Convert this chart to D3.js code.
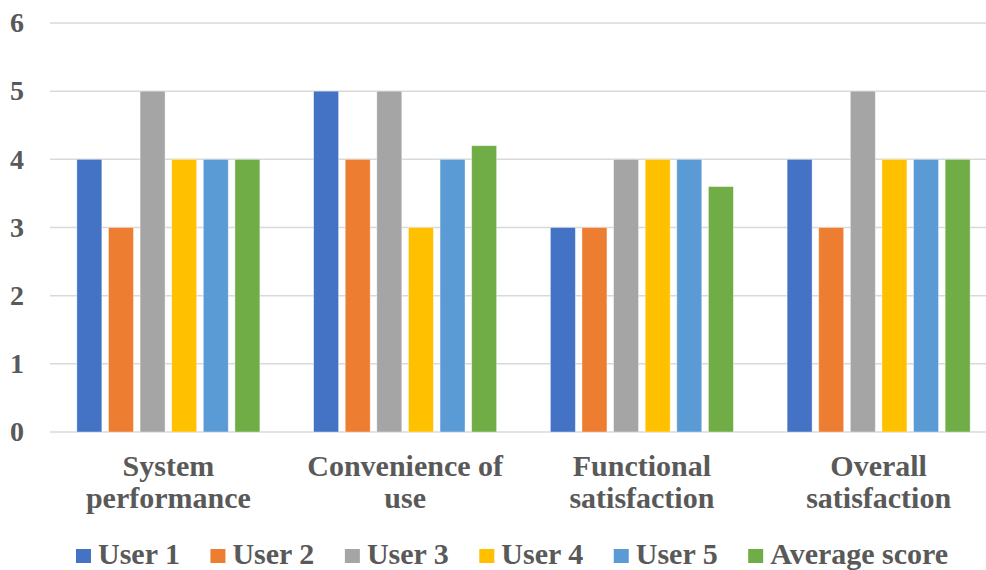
<!DOCTYPE html>
<html>
<head>
<meta charset="utf-8">
<script src="https://cdn.jsdelivr.net/npm/d3@7"></script>
<style>
  html, body { margin: 0; padding: 0; background: #fff; }
  svg text { font-family: "Liberation Serif", "Times New Roman", serif; font-weight: bold; fill: #595959; }
</style>
</head>
<body>
<svg id="chart" width="986" height="570"></svg>
<script>
// Survey scores per evaluation criterion
const categories = [
  ["System", "performance"],
  ["Convenience of", "use"],
  ["Functional", "satisfaction"],
  ["Overall", "satisfaction"]
];
const seriesNames = ["User 1", "User 2", "User 3", "User 4", "User 5", "Average score"];
const user1 = [4, 5, 3, 4];
const user2 = [3, 4, 3, 3];
const user3 = [5, 5, 4, 5];
const user4 = [4, 3, 4, 4];
const user5 = [4, 4, 4, 4];
const averageScore = [4, 4.2, 3.6, 4];
const yTicks = [0, 1, 2, 3, 4, 5, 6];
const colors = ["#4472C4", "#ED7D31", "#A5A5A5", "#FFC000", "#5B9BD5", "#70AD47"];

const seriesValues = [user1, user2, user3, user4, user5, averageScore];
const catKeys = categories.map(c => c.join(" "));

const svg = d3.select("#chart");
const margin = { left: 50, right: -11, top: 23, bottom: 138 };
const W = 986, H = 570;

const x0 = d3.scaleBand()
  .domain(catKeys)
  .range([margin.left, W - margin.right])
  .paddingInner(0)
  .paddingOuter(0);

const groupInset = (x0.bandwidth() - 183) / 2;
const x1 = d3.scaleBand()
  .domain(seriesNames)
  .range([groupInset, x0.bandwidth() - groupInset])
  .paddingInner(0.21)
  .paddingOuter(0);

const y = d3.scaleLinear()
  .domain([0, 6])
  .range([H - margin.bottom, margin.top]);

// Horizontal gridlines
svg.append("g")
  .selectAll("line")
  .data(yTicks)
  .join("line")
  .attr("x1", margin.left)
  .attr("x2", W)
  .attr("y1", d => y(d))
  .attr("y2", d => y(d))
  .attr("stroke", "#d9d9d9")
  .attr("stroke-width", 1.5);

// Y tick labels
svg.append("g")
  .selectAll("text")
  .data(yTicks)
  .join("text")
  .attr("x", 24)
  .attr("y", d => y(d))
  .attr("dy", "0.33em")
  .attr("text-anchor", "end")
  .attr("font-size", 28)
  .text(d => d);

// Bars
const groups = svg.append("g")
  .selectAll("g")
  .data(catKeys)
  .join("g")
  .attr("transform", d => `translate(${x0(d)},0)`);

groups.selectAll("rect")
  .data((d, i) => seriesNames.map((s, j) => ({ s, v: seriesValues[j][i], c: colors[j] })))
  .join("rect")
  .attr("x", d => x1(d.s))
  .attr("width", x1.bandwidth())
  .attr("y", d => y(d.v))
  .attr("height", d => y(0) - y(d.v))
  .attr("fill", d => d.c)
  .attr("stroke", "#ffffff")
  .attr("stroke-opacity", 0.5)
  .attr("stroke-width", 0.75);

// Category labels (two lines each)
const catLabels = svg.append("g")
  .selectAll("text")
  .data(categories)
  .join("text")
  .attr("x", (d, i) => x0(catKeys[i]) + x0.bandwidth() / 2)
  .attr("y", 476)
  .attr("text-anchor", "middle")
  .attr("font-size", 30);

catLabels.selectAll("tspan")
  .data(d => d)
  .join("tspan")
  .attr("x", function () { return d3.select(this.parentNode).attr("x"); })
  .attr("dy", (d, i) => i === 0 ? 0 : 32)
  .text(d => d);

// Legend
const legend = svg.append("g");
let lx = 76;
seriesNames.forEach((name, i) => {
  legend.append("rect")
    .attr("x", lx)
    .attr("y", 549)
    .attr("width", 15)
    .attr("height", 14)
    .attr("fill", colors[i]);
  const t = legend.append("text")
    .attr("x", lx + 22)
    .attr("y", 564)
    .attr("font-size", 30)
    .text(name);
  lx += 22 + t.node().getComputedTextLength() + 30.5;
});
</script>
</body>
</html>
